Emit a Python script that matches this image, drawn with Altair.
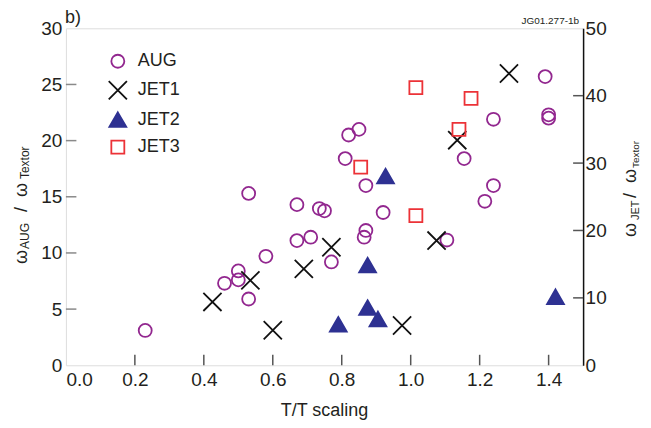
import altair as alt
import pandas as pd

# ---- data ----
aug_x = [0.23, 0.46, 0.50, 0.50, 0.53, 0.58, 0.53, 0.67, 0.67, 0.71, 0.735, 0.75, 0.77,
         0.81, 0.82, 0.85, 0.87, 0.87, 0.865, 0.92, 1.105, 1.155, 1.215, 1.24, 1.24,
         1.39, 1.40, 1.40]
aug_y = [3.1, 7.3, 8.4, 7.6, 5.9, 9.7, 15.3, 14.3, 11.1, 11.4, 13.95, 13.75, 9.2,
         18.4, 20.5, 21.0, 16.0, 12.0, 11.4, 13.6, 11.15, 18.4, 14.6, 16.0, 21.9,
         25.7, 22.3, 22.0]

jet1_x = [0.425, 0.535, 0.60, 0.69, 0.77, 0.975, 1.075, 1.135, 1.285]
jet1_y = [9.4, 12.6, 5.2, 14.3, 17.5, 5.9, 18.5, 33.4, 43.3]

jet2_x = [0.79, 0.875, 0.905, 0.875, 0.927, 1.42]
jet2_y = [6.0, 8.5, 6.8, 14.8, 28.0, 10.1]

jet3_x = [0.855, 1.015, 1.015, 1.14, 1.175]
jet3_y = [29.4, 22.2, 41.2, 35.0, 39.6]

series_names = ["AUG", "JET1", "JET2", "JET3"]
x_ticks = [0.0, 0.2, 0.4, 0.6, 0.8, 1.0, 1.2, 1.4]
left_ticks = [0, 5, 10, 15, 20, 25, 30]
right_ticks = [0, 10, 20, 30, 40, 50]

# ---- styling ----
W, H = 518, 337.5
FONT = "Liberation Sans"
TXT = "#231f20"
GRAY = "#8a8a8a"
PURPLE = "#92278f"
NAVY = "#2e3192"
RED = "#ec3237"

shape_range = [
    "circle",
    "M-1.4,-1.4L1.4,1.4M-1.4,1.4L1.4,-1.4",
    "M0,-1.2L1.3,1.05L-1.3,1.05Z",
    "square",
]
stroke_range = [PURPLE, "#111111", NAVY, RED]
fill_range = ["transparent", "transparent", NAVY, "transparent"]

aug_df = pd.DataFrame({"x": aug_x, "y": aug_y, "series": "AUG"})
jet_df = pd.concat([
    pd.DataFrame({"x": jet1_x, "y": jet1_y, "series": "JET1"}),
    pd.DataFrame({"x": jet2_x, "y": jet2_y, "series": "JET2"}),
    pd.DataFrame({"x": jet3_x, "y": jet3_y, "series": "JET3"}),
], ignore_index=True)

leg = alt.Legend(
    title=None, orient="none", legendX=43, legendY=24,
    symbolSize=169, symbolStrokeWidth=1.8, labelFontSize=18, labelFont=FONT,
    labelColor=TXT, rowPadding=5, labelOffset=11,
)
shape_enc = alt.Shape("series:N", scale=alt.Scale(domain=series_names, range=shape_range), legend=leg)
stroke_enc = alt.Stroke("series:N", scale=alt.Scale(domain=series_names, range=stroke_range), legend=leg)
fill_enc = alt.Fill("series:N", scale=alt.Scale(domain=series_names, range=fill_range), legend=leg)

x_scale = alt.Scale(domain=[0, 1.5], nice=False, zero=False)
x_axis = alt.Axis(values=x_ticks, format=".1f", labelFontSize=19, labelFont=FONT,
                  labelColor=TXT, ticks=False, domain=False, grid=False,
                  labelPadding=5, title=None)
yl_scale = alt.Scale(domain=[0, 30], nice=False)
yl_axis = alt.Axis(values=left_ticks, labelFontSize=19, labelFont=FONT, labelColor=TXT,
                   ticks=False, domain=False, grid=False, labelPadding=4, title=None)
yr_scale = alt.Scale(domain=[0, 50], nice=False)
yr_axis = alt.Axis(orient="right", values=right_ticks, labelFontSize=19, labelFont=FONT,
                   labelColor=TXT, ticks=False, domain=True, domainColor="#111111",
                   domainWidth=1.5, grid=False, labelPadding=2, title=None)

X = alt.X("x:Q", scale=x_scale, axis=x_axis)

aug_pts = alt.Chart(aug_df).mark_point(size=169, strokeWidth=1.8, opacity=1).encode(
    x=X, y=alt.Y("y:Q", scale=yl_scale, axis=yl_axis),
    shape=shape_enc, stroke=stroke_enc, fill=fill_enc,
)
left_tick_df = pd.DataFrame({"v": left_ticks[1:-1]})
left_tick_rules = alt.Chart(left_tick_df).mark_rule(color=GRAY, strokeWidth=1.5).encode(
    y=alt.Y("v:Q", scale=yl_scale, axis=yl_axis), x=alt.value(0), x2=alt.value(10.5),
)
x_tick_df = pd.DataFrame({"v": x_ticks[1:]})
x_tick_rules = alt.Chart(x_tick_df).mark_rule(color="#555555", strokeWidth=1.5).encode(
    x=alt.X("v:Q", scale=x_scale, axis=x_axis), y=alt.value(H), y2=alt.value(H - 10.5),
)
left_group = alt.layer(left_tick_rules, x_tick_rules, aug_pts)

jet_pts = alt.Chart(jet_df).mark_point(size=169, strokeWidth=1.8, opacity=1).encode(
    x=X, y=alt.Y("y:Q", scale=yr_scale, axis=yr_axis),
    shape=shape_enc, stroke=stroke_enc, fill=fill_enc,
)
right_tick_df = pd.DataFrame({"v": right_ticks[1:-1]})
right_tick_rules = alt.Chart(right_tick_df).mark_rule(color="#555555", strokeWidth=1.5).encode(
    y=alt.Y("v:Q", scale=yr_scale, axis=yr_axis), x=alt.value(W), x2=alt.value(W - 10),
)
right_group = alt.layer(right_tick_rules, jet_pts)

one = pd.DataFrame({"k": [0]})


def txt(text, x, y, size, angle=0, align="left", baseline="alphabetic"):
    kw = dict(fontSize=size, font=FONT, color=TXT, align=align, baseline=baseline)
    if angle:
        kw["angle"] = angle
    return alt.Chart(one).mark_text(**kw).encode(
        x=alt.value(x), y=alt.value(y), text=alt.value(text)
    )


texts = [
    # left axis title: ω_AUG / ω_Textor
    txt("ω", -39, 236, 18, 270),
    txt("AUG", -36.5, 221, 12, 270),
    txt("/", -39, 184, 18, 270),
    txt("ω", -39, 169, 18, 270),
    txt("Textor", -36.5, 151, 12, 270),
    # right axis title: ω_JET / ω Textor
    txt("ω", 570.5, 209, 18, 270),
    txt("JET", 574, 192, 11, 270),
    txt("/", 570.5, 170, 18, 270),
    txt("ω", 570.5, 155, 18, 270),
    txt("Textor", 574, 140, 10, 270),
    # x title
    txt("T/T scaling", 259, 388, 18, align="center"),
    # panel label and figure id
    txt("b)", -1, -5, 18),
    txt("JG01.277-1b", 514, -4, 10, align="right"),
]

chart = alt.layer(left_group, right_group, *texts).resolve_scale(y="independent").properties(
    width=W, height=H,
    autosize=alt.AutoSizeParams(type="none"),
    padding={"left": 58, "top": 20, "right": 60, "bottom": 58},
).configure_view(stroke=GRAY, strokeWidth=1.5).configure(font=FONT)

chart.save("out.html", embed_options={"renderer": "svg", "actions": False})
